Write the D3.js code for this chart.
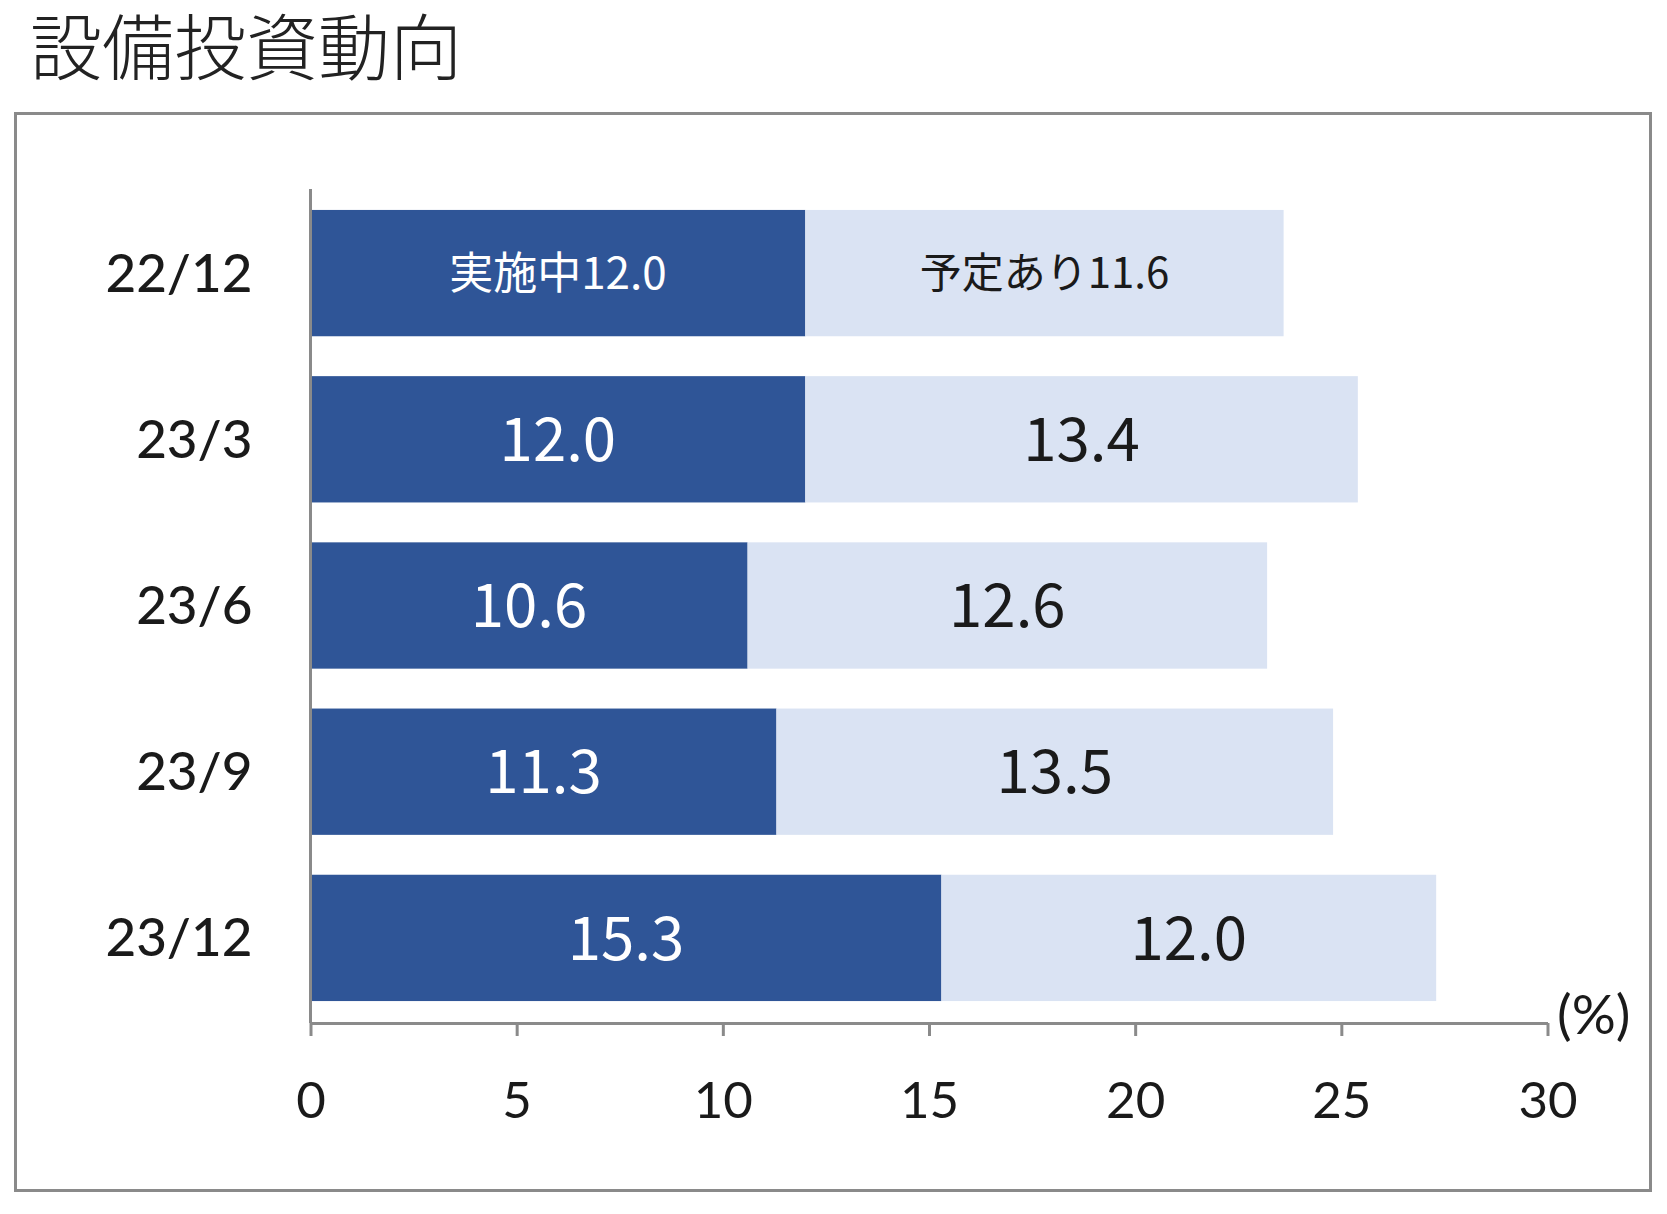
<!DOCTYPE html>
<html><head><meta charset="utf-8">
<script src="https://cdn.jsdelivr.net/npm/d3@7"></script>
<style>body{margin:0;background:#fff}</style>
</head><body>
<script>
const categories = ["22/12","23/3","23/6","23/9","23/12"];
const seriesNames = ["実施中","予定あり"];
const implemented = [12.0, 12.0, 10.6, 11.3, 15.3];
const planned = [11.6, 13.4, 12.6, 13.5, 12.0];
const xTicks = [0,5,10,15,20,25,30];

const W = 1667, H = 1214;
const svg = d3.select("body").append("svg").attr("width", W).attr("height", H);

// title
svg.append("text").attr("x", 30).attr("y", 74)
  .attr("font-family", "'Noto Sans CJK JP'").attr("font-weight", 300)
  .attr("font-size", 72).attr("fill", "#222").text("設備投資動向");

// frame
svg.append("rect").attr("x", 15.5).attr("y", 113.5).attr("width", 1635).attr("height", 1077)
  .attr("fill", "none").attr("stroke", "#8a8a8a").attr("stroke-width", 3);

const x = d3.scaleLinear().domain([0, 30]).range([310.5, 1547.5]);
const y = d3.scaleBand().domain(categories).range([190, 1021]).paddingInner(0.24).paddingOuter(0.12);

const rows = categories.map((c, i) => ({c, a: implemented[i], b: planned[i], i}));

// bars
svg.append("g").selectAll("rect").data(rows).join("rect")
  .attr("x", d => x(0)).attr("y", d => y(d.c))
  .attr("width", d => x(d.a) - x(0)).attr("height", y.bandwidth())
  .attr("fill", "#2F5597");
svg.append("g").selectAll("rect").data(rows).join("rect")
  .attr("x", d => x(d.a)).attr("y", d => y(d.c))
  .attr("width", d => x(d.a + d.b) - x(d.a)).attr("height", y.bandwidth())
  .attr("fill", "#DAE3F3");

// value labels
const fmt = d3.format(".1f");
svg.append("g").selectAll("text").data(rows).join("text")
  .attr("x", d => (x(0) + x(d.a)) / 2).attr("y", d => y(d.c) + y.bandwidth() / 2)
  .attr("dy", "0.36em").attr("text-anchor", "middle")
  .attr("font-family", "'Noto Sans CJK JP'")
  .attr("font-size", d => d.i === 0 ? 44 : 60).attr("fill", "#fff")
  .text(d => (d.i === 0 ? seriesNames[0] : "") + fmt(d.a));
svg.append("g").selectAll("text").data(rows).join("text")
  .attr("x", d => (x(d.a) + x(d.a + d.b)) / 2).attr("y", d => y(d.c) + y.bandwidth() / 2)
  .attr("dy", "0.36em").attr("text-anchor", "middle")
  .attr("font-family", "'Noto Sans CJK JP'")
  .attr("font-size", d => d.i === 0 ? 42 : 60).attr("fill", "#1a1a1a")
  .text(d => (d.i === 0 ? seriesNames[1] : "") + fmt(d.b));

// x axis
const axisY = 1023;
const gx = svg.append("g").attr("transform", `translate(0,${axisY})`)
  .call(d3.axisBottom(x).tickValues(xTicks).tickSize(13).tickSizeOuter(0).tickFormat(d3.format("d")));
gx.select(".domain").attr("stroke", "#8a8a8a").attr("stroke-width", 3);
gx.selectAll(".tick line").attr("stroke", "#8a8a8a").attr("stroke-width", 3);
gx.selectAll(".tick text").attr("y", 77).attr("dy", "0.35em")
  .attr("font-family", "Lato").attr("font-size", 51).attr("fill", "#1a1a1a");

// y axis
const gy = svg.append("g").attr("transform", `translate(${x(0)},0)`)
  .call(d3.axisLeft(y).tickSize(0).tickSizeOuter(0).tickPadding(58));
gy.select(".domain").attr("stroke", "#8a8a8a").attr("stroke-width", 3)
  .attr("d", `M0,189V${axisY}`);
gy.selectAll(".tick text").attr("dy", "0.35em")
  .attr("font-family", "Lato").attr("font-size", 53).attr("font-weight", 500).attr("fill", "#1a1a1a");

// unit
svg.append("text").attr("x", 1557).attr("y", 1015).attr("dy", "0.35em")
  .attr("font-family", "Lato").attr("font-size", 55).attr("fill", "#1a1a1a").text("(%)");
</script>
</body></html>
